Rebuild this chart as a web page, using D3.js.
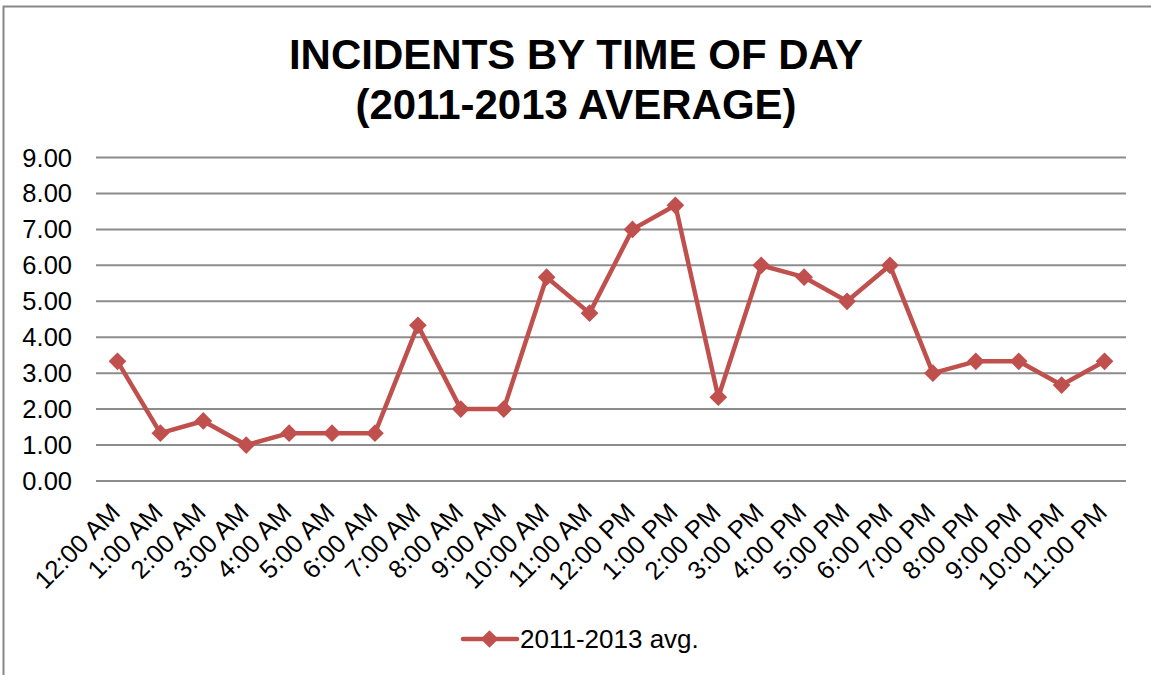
<!DOCTYPE html>
<html>
<head>
<meta charset="utf-8">
<script src="https://cdn.jsdelivr.net/npm/d3@7"></script>
<style>
  body { margin: 0; background: #fff; }
  text { font-family: "Liberation Sans", Arial, sans-serif; fill: #000; }
</style>
</head>
<body>
<div id="vis"></div>
<script>
// chart data
const hours = ["12:00 AM", "1:00 AM", "2:00 AM", "3:00 AM", "4:00 AM", "5:00 AM", "6:00 AM", "7:00 AM",
  "8:00 AM", "9:00 AM", "10:00 AM", "11:00 AM", "12:00 PM", "1:00 PM", "2:00 PM", "3:00 PM",
  "4:00 PM", "5:00 PM", "6:00 PM", "7:00 PM", "8:00 PM", "9:00 PM", "10:00 PM", "11:00 PM"]
const avgIncidents = [3.33, 1.33, 1.67, 1.00, 1.33, 1.33, 1.33, 4.33, 2.00, 2.00, 5.67, 4.67,
  7.00, 7.67, 2.33, 6.00, 5.67, 5.00, 6.00, 3.00, 3.33, 3.33, 2.67, 3.33]
const yTicks = [0, 1, 2, 3, 4, 5, 6, 7, 8, 9]
const seriesName = "2011-2013 avg."
const titleLines = ["INCIDENTS BY TIME OF DAY", "(2011-2013 AVERAGE)"]

const W = 1151, H = 675
const plot = { left: 96, right: 1126, top: 157.5, bottom: 481 }
const red = "#C0504D"

let svg = d3.select("#vis").append("svg")
  .attr("width", W)
  .attr("height", H)

// frame of the chart area
svg.append("rect")
  .attr("x", 3.5).attr("y", 6.5)
  .attr("width", W + 10).attr("height", H + 10)
  .attr("fill", "none")
  .attr("stroke", "#888")
  .attr("stroke-width", 2)

svg.append("g")
  .selectAll("text")
  .data(titleLines)
  .enter()
  .append("text")
  .attr("x", 576)
  .attr("y", (d, i) => 69 + i * 50)
  .attr("text-anchor", "middle")
  .style("font-size", "42px")
  .style("font-weight", "bold")
  .text(d => d)

let x = d3.scalePoint()
  .domain(hours)
  .range([plot.left, plot.right])
  .padding(0.5)

let y = d3.scaleLinear()
  .domain([0, 9])
  .range([plot.bottom, plot.top])

// gridlines
svg.append("g")
  .selectAll("line")
  .data(yTicks)
  .enter()
  .append("line")
  .attr("x1", plot.left).attr("x2", plot.right)
  .attr("y1", d => y(d)).attr("y2", d => y(d))
  .attr("stroke", "#8c8c8c")
  .attr("stroke-width", 2)

// y labels
svg.append("g")
  .selectAll("text")
  .data(yTicks)
  .enter()
  .append("text")
  .attr("x", 72)
  .attr("y", d => y(d) + 9)
  .attr("text-anchor", "end")
  .style("font-size", "25.5px")
  .text(d => d.toFixed(2))

// x labels
svg.append("g")
  .selectAll("text")
  .data(hours)
  .enter()
  .append("text")
  .attr("transform", d => `translate(${x(d) + 4},${plot.bottom + 33}) rotate(-45)`)
  .attr("text-anchor", "end")
  .style("font-size", "25.5px")
  .text(d => d)

let line = d3.line()
  .x((d, i) => x(hours[i]))
  .y(d => y(d))

svg.append("path")
  .datum(avgIncidents)
  .attr("d", line)
  .attr("fill", "none")
  .attr("stroke", red)
  .attr("stroke-width", 4.5)
  .attr("stroke-linejoin", "round")

let diamond = d3.symbol().type(d3.symbolDiamond2).size(200)

svg.append("g")
  .selectAll("path")
  .data(avgIncidents)
  .enter()
  .append("path")
  .attr("d", diamond)
  .attr("transform", (d, i) => `translate(${x(hours[i])},${y(d)})`)
  .attr("fill", red)

// legend
let legend = svg.append("g").attr("transform", "translate(463,639)")
legend.append("line")
  .attr("x1", 0).attr("x2", 54)
  .attr("stroke", red)
  .attr("stroke-width", 4.5)
  .attr("stroke-linecap", "round")
legend.append("path")
  .attr("d", diamond)
  .attr("transform", "translate(26.5,0)")
  .attr("fill", red)
legend.append("text")
  .attr("x", 57)
  .attr("y", 9)
  .style("font-size", "26px")
  .text(seriesName)
</script>
</body>
</html>
